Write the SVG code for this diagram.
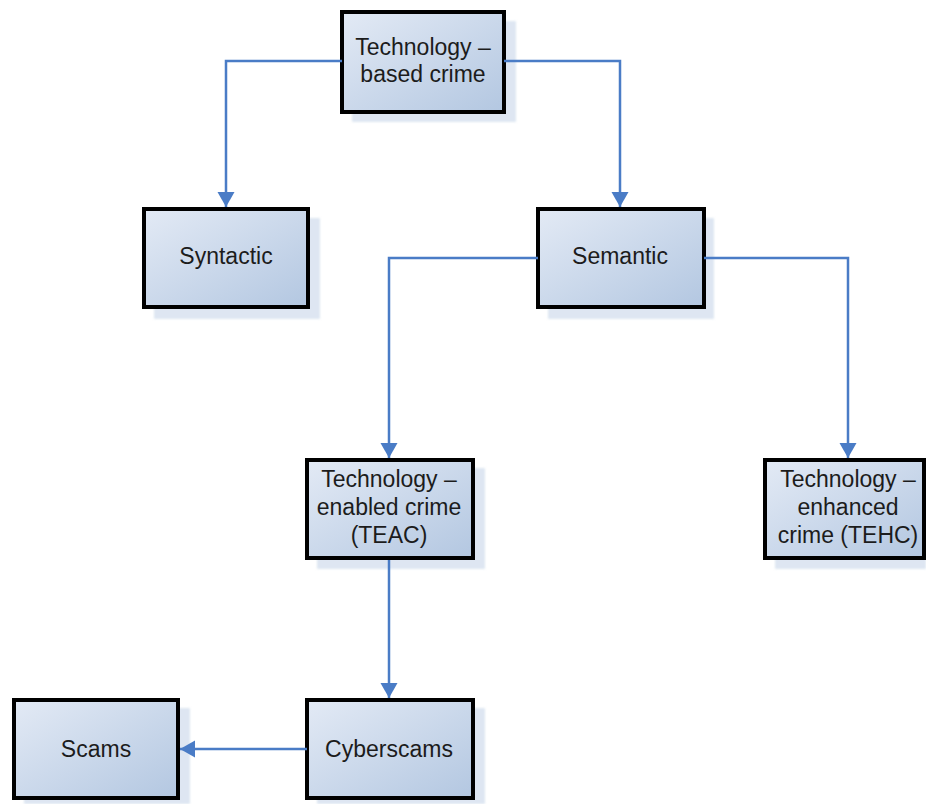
<svg xmlns="http://www.w3.org/2000/svg" width="926" height="804" viewBox="0 0 926 804">
<defs>
<linearGradient id="g" x1="0" y1="0" x2="1" y2="1">
<stop offset="0" stop-color="#e3eaf5"/>
<stop offset="1" stop-color="#b3c7e1"/>
</linearGradient>
<filter id="blur" x="-10%" y="-10%" width="120%" height="120%"><feGaussianBlur stdDeviation="1.2"/></filter>
<marker id="arr" markerWidth="16" markerHeight="18" refX="15" refY="8.5" orient="auto" markerUnits="userSpaceOnUse" overflow="visible">
<path d="M0,0 L15,8.5 L0,17 Z" fill="#4a7cc6"/>
</marker>
</defs>
<style>
.sh{fill:#d6e1ef;opacity:0.8;filter:url(#blur)}
.bx{fill:url(#g);stroke:#000;stroke-width:4}
.t{font-family:"Liberation Sans",Arial,sans-serif;font-size:23px;fill:#1c1c1c;text-anchor:middle}
.c{fill:none;stroke:#4a7cc6;stroke-width:2.5}
</style>
<rect width="926" height="804" fill="#fff"/>
<g id="n-tbc">
<rect class="sh" x="352" y="21" width="164" height="101"/>
<rect class="bx" x="342" y="12" width="162" height="100"/>
<text class="t" x="423" y="55">Technology –</text>
<text class="t" x="423" y="82">based crime</text>
</g>
<g id="n-syntactic">
<rect class="sh" x="154" y="218" width="166" height="101"/>
<rect class="bx" x="144" y="209" width="164" height="98"/>
<text class="t" x="226" y="264">Syntactic</text>
</g>
<g id="n-semantic">
<rect class="sh" x="548" y="218" width="166" height="101"/>
<rect class="bx" x="538" y="209" width="166" height="98"/>
<text class="t" x="620" y="264">Semantic</text>
</g>
<g id="n-teac">
<rect class="sh" x="317" y="468" width="168" height="101"/>
<rect class="bx" x="307" y="460" width="166" height="98"/>
<text class="t" x="389" y="487">Technology –</text>
<text class="t" x="389" y="515">enabled crime</text>
<text class="t" x="389" y="543">(TEAC)</text>
</g>
<g id="n-tehc">
<rect class="sh" x="775" y="468" width="151" height="101"/>
<rect class="bx" x="765" y="460" width="159" height="98"/>
<text class="t" x="848" y="487">Technology –</text>
<text class="t" x="848" y="515">enhanced</text>
<text class="t" x="848" y="543">crime (TEHC)</text>
</g>
<g id="n-scams">
<rect class="sh" x="24" y="708" width="166" height="96"/>
<rect class="bx" x="14" y="700" width="164" height="98"/>
<text class="t" x="96" y="757">Scams</text>
</g>
<g id="n-cyberscams">
<rect class="sh" x="317" y="708" width="168" height="96"/>
<rect class="bx" x="307" y="700" width="166" height="98"/>
<text class="t" x="389" y="757">Cyberscams</text>
</g>
<g id="connectors">
<path class="c" d="M342,61 H226 V207" marker-end="url(#arr)"/>
<path class="c" d="M504,61 H620 V207" marker-end="url(#arr)"/>
<path class="c" d="M538,258 H389 V458" marker-end="url(#arr)"/>
<path class="c" d="M704,258 H848 V458" marker-end="url(#arr)"/>
<path class="c" d="M389,560 V698" marker-end="url(#arr)"/>
<path class="c" d="M307,749 H180" marker-end="url(#arr)"/>
</g>
</svg>
